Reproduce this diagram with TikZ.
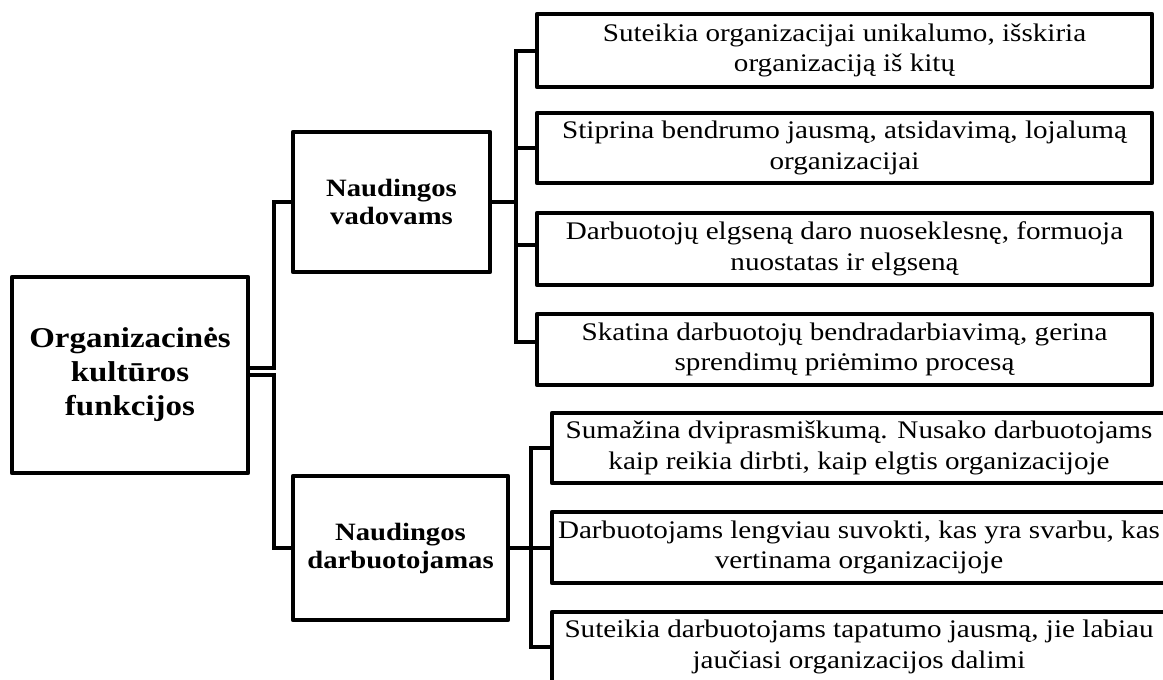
\documentclass[tikz,border=0pt]{standalone}
\usepackage{fontspec}
\setmainfont{Liberation Serif}[FakeStretch=1.15]
\begin{document}
\begin{tikzpicture}[x=0.75pt,y=-0.75pt,
  box/.style={draw,line width=3.4pt,line join=round,rectangle,align=center,inner sep=0pt},
  leaf/.style={box,font=\fontsize{19}{23}\selectfont},
  branch/.style={box,font=\fontsize{18.7}{21}\selectfont\bfseries},
  rootbox/.style={box,font=\fontsize{21.5}{25.5}\selectfont\bfseries},
  conn/.style={line width=3pt,line join=miter}]
\useasboundingbox (0,0) rectangle (1163,679);
\clip (0,0) rectangle (1163,679);

% root
\node[rootbox,minimum width=177pt,minimum height=147pt] (root) at (130,375)
  {Organizacinės\\kultūros\\funkcijos};

% second level
\node[branch,minimum width=147.75pt,minimum height=105pt] (vad) at (391.5,202)
  {Naudingos\\vadovams};
\node[branch,minimum width=161.25pt,minimum height=108pt] (darb) at (400.5,548)
  {Naudingos\\darbuotojamas};

% functions useful to managers
\node[leaf,minimum width=461.25pt,minimum height=54.75pt] (v1) at (844.5,50.5)
  {Suteikia organizacijai unikalumo, išskiria\\organizaciją iš kitų};
\node[leaf,minimum width=461.25pt,minimum height=52.5pt] (v2) at (844.5,148)
  {Stiprina bendrumo jausmą, atsidavimą, lojalumą\\organizacijai};
\node[leaf,minimum width=461.25pt,minimum height=54pt] (v3) at (844.5,249)
  {Darbuotojų elgseną daro nuoseklesnę, formuoja\\nuostatas ir elgseną};
\node[leaf,minimum width=461.25pt,minimum height=53.25pt] (v4) at (844.5,349.5)
  {Skatina darbuotojų bendradarbiavimą, gerina\\sprendimų priėmimo procesą};

% functions useful to employees
\node[leaf,minimum width=460.5pt,minimum height=52.5pt] (d1) at (859,448)
  {Sumažina dviprasmiškumą. Nusako darbuotojams\\kaip reikia dirbti, kaip elgtis organizacijoje};
\node[leaf,minimum width=460.5pt,minimum height=53.25pt] (d2) at (859,547.5)
  {Darbuotojams lengviau suvokti, kas yra svarbu, kas\\vertinama organizacijoje};
\node[leaf,minimum width=460.5pt,minimum height=52.5pt] (d3) at (859,647)
  {Suteikia darbuotojams tapatumo jausmą, jie labiau\\jaučiasi organizacijos dalimi};

% connectors
\draw[conn] ([yshift=5.25pt]root.east) -- ++(24,0) |- (vad.west);
\draw[conn] (root.east) -- ++(24,0) |- (darb.west);

\draw[conn] (vad.east) -- ++(24,0) |- (v1.west);
\draw[conn] (vad.east) -- ++(24,0) |- (v2.west);
\draw[conn] (vad.east) -- ++(24,0) |- ([yshift=3pt]v3.west);
\draw[conn] (vad.east) -- ++(24,0) |- ([yshift=5.5pt]v4.west);

\draw[conn] (darb.east) -- ++(21,0) |- (d1.west);
\draw[conn] (darb.east) -- ++(21,0) |- (d2.west);
\draw[conn] (darb.east) -- ++(21,0) |- (d3.west);
\end{tikzpicture}
\end{document}
